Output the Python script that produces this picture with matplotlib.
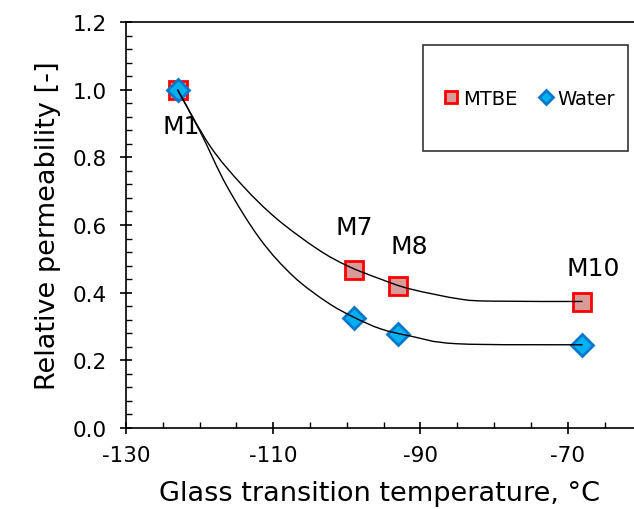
import matplotlib.pyplot as plt
from matplotlib.patches import Rectangle, PathPatch
from matplotlib.path import Path
from matplotlib.ticker import MultipleLocator

# glass transition temperature (C) and relative permeability per membrane
names = ['M1', 'M7', 'M8', 'M10']
tg = [-123, -99, -93, -68]
mtbe = [1.0, 0.468, 0.42, 0.373]
water = [1.0, 0.325, 0.278, 0.245]

# guide curves through each series
mtbe_curve_x = [-123, -118.6, -114.1, -109.5, -104.0, -99.9, -95.4, -91.4,
                -84.6, -80.1, -68]
mtbe_curve_y = [1.0, 0.834, 0.715, 0.618, 0.529, 0.479, 0.440, 0.411,
                0.381, 0.375, 0.374]
water_curve_x = [-123, -119.9, -116.3, -111.8, -107.3, -102.7, -99.1, -95.4,
                 -91.4, -85.0, -68]
water_curve_y = [1.0, 0.875, 0.715, 0.559, 0.449, 0.372, 0.328, 0.293,
                 0.272, 0.249, 0.246]

label_x = [-122.5, -99.0, -91.5, -66.5]
label_y = [0.893, 0.594, 0.538, 0.473]


def smooth_path(xs, ys):
    # Catmull-Rom through the points, written as cubic bezier segments
    pts = list(zip(xs, ys))
    verts = [pts[0]]
    codes = [Path.MOVETO]
    n = len(pts)
    for i in range(n - 1):
        p0 = pts[max(i - 1, 0)]
        p1 = pts[i]
        p2 = pts[i + 1]
        p3 = pts[min(i + 2, n - 1)]
        c1 = (p1[0] + (p2[0] - p0[0]) / 6, p1[1] + (p2[1] - p0[1]) / 6)
        c2 = (p2[0] - (p3[0] - p1[0]) / 6, p2[1] - (p3[1] - p1[1]) / 6)
        verts += [c1, c2, p2]
        codes += [Path.CURVE4] * 3
    return Path(verts, codes)


fig = plt.figure(figsize=(6.34, 5.10), dpi=100)
ax = fig.add_axes([0.1987, 0.1588, 0.8013, 0.7961])

ax.plot(tg, mtbe, 's', ms=13.5, mfc='#d99a9a', mec='#ff0000', mew=2,
        label='MTBE', zorder=3)
ax.plot(tg, water, 'D', ms=11, mfc='#00b0f0', mec='#0a78c8', mew=2,
        label='Water', zorder=4)
for cx, cy in ((mtbe_curve_x, mtbe_curve_y), (water_curve_x, water_curve_y)):
    ax.add_patch(PathPatch(smooth_path(cx, cy), fill=False,
                           edgecolor='black', lw=1.0, zorder=5))

for name, lx, ly in zip(names, label_x, label_y):
    ax.text(lx, ly, name, fontsize=18, ha='center', va='center', zorder=6)

ax.set_xlim(-130, -61)
ax.set_ylim(0, 1.2)
ax.set_xticks([-130, -110, -90, -70])
ax.set_xticklabels(['-130', '-110', '-90', '-70'])
ax.xaxis.set_minor_locator(MultipleLocator(5))
ax.yaxis.set_major_locator(MultipleLocator(0.2))
ax.yaxis.set_minor_locator(MultipleLocator(0.04))
ax.yaxis.set_major_formatter(plt.FormatStrFormatter('%.1f'))

ax.tick_params(axis='y', which='major', direction='inout', length=8, width=1.2,
               labelsize=15.5, pad=10)
ax.tick_params(axis='x', which='major', direction='inout', length=8, width=1.2,
               labelsize=15.5, pad=8)
ax.tick_params(which='minor', direction='in', length=4, width=1)
ax.spines['right'].set_visible(False)
for s in ('left', 'bottom', 'top'):
    ax.spines[s].set_linewidth(1.2)

ax.set_xlabel('Glass transition temperature, °C', fontsize=19.5, labelpad=11)
ax.set_ylabel('Relative permeability [-]', fontsize=19.5, labelpad=8)

# legend frame drawn separately so it can be taller than its entries
ax.add_patch(Rectangle((0.585, 0.682), 0.403, 0.261, transform=ax.transAxes,
                       fill=False, edgecolor='#333333', lw=1.2, zorder=7))
ax.legend(loc='center', bbox_to_anchor=(0.793, 0.812), ncol=2, fontsize=14,
          frameon=False, handletextpad=0.15, columnspacing=1.0,
          handlelength=0.9, markerscale=0.65)

fig.savefig('out.png', dpi=100)
